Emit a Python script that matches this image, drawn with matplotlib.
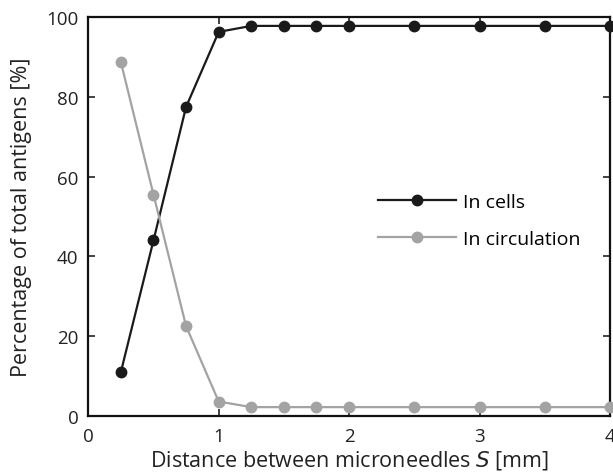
import matplotlib
matplotlib.use("Agg")
import matplotlib.pyplot as plt

distance = [0.25, 0.5, 0.75, 1.0, 1.25, 1.5, 1.75, 2.0, 2.5, 3.0, 3.5, 4.0]
in_cells = [11, 44, 77.5, 96.3, 97.8, 97.8, 97.8, 97.8, 97.8, 97.8, 97.8, 97.8]
in_circulation = [88.7, 55.5, 22.5, 3.6, 2.2, 2.2, 2.2, 2.2, 2.2, 2.2, 2.2, 2.2]

plt.rcParams["font.family"] = ["Open Sans", "DejaVu Sans"]

fig = plt.figure(figsize=(6.13, 4.77), dpi=100)
ax = fig.add_axes([0.144, 0.126, 0.851, 0.836])

ax.plot(distance, in_cells, color="#1a1a1a", marker="o", markersize=7.5,
        linewidth=1.6, label="In cells", clip_on=False, zorder=3)
ax.plot(distance, in_circulation, color="#a3a3a3", marker="o", markersize=7.5,
        linewidth=1.6, label="In circulation", clip_on=False, zorder=3)

ax.set_xlim(0, 4)
ax.set_ylim(0, 100)
ax.set_xticks([0, 1, 2, 3, 4])
ax.set_yticks([0, 20, 40, 60, 80, 100])
ax.tick_params(direction="in", top=True, right=True, labelsize=13.5,
               length=5, width=1.2, pad=7, colors="#222222")
ax.tick_params(axis="x", pad=8)
for s in ax.spines.values():
    s.set_linewidth(1.6)
    s.set_color("#111111")

ax.set_xlabel("Distance between microneedles $S$ [mm]", fontsize=15.5, color="#222222", labelpad=2)
ax.set_ylabel("Percentage of total antigens [%]", fontsize=15.5, color="#222222", labelpad=10)

ax.legend(loc="center left", bbox_to_anchor=(0.54, 0.49), frameon=False,
          fontsize=14, handlelength=4.0, handletextpad=0.4, labelspacing=0.95,
          borderaxespad=0)

fig.savefig("out.png", dpi=100)
